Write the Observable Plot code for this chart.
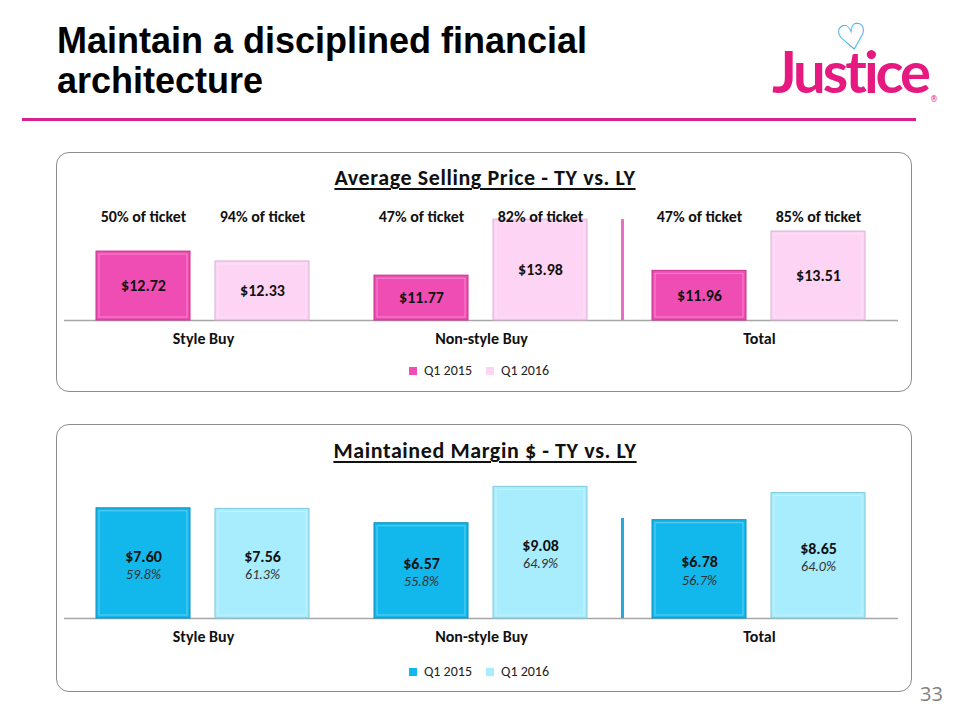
<!DOCTYPE html>
<html>
<head>
<meta charset="utf-8">
<script src="https://cdn.jsdelivr.net/npm/d3@7"></script>
<script src="https://cdn.jsdelivr.net/npm/@observablehq/plot@0.6"></script>
<style>
  html, body { margin: 0; padding: 0; }
  body { width: 960px; height: 720px; position: relative; background: #fff; overflow: hidden; font-family: Carlito, Calibri, Lato, "Open Sans", sans-serif; }
  #title { position: absolute; left: 57px; top: 21px; font: bold 36px/40px "Liberation Sans", Arial, sans-serif; color: #000; }
  #hr { position: absolute; left: 22px; top: 118px; width: 894px; height: 3px; background: #d6228c; }
  .panel { position: absolute; left: 56px; width: 856px; border: 1.5px solid #8c8c8c; border-radius: 13px; box-sizing: border-box; }
  #p1 { top: 152px; height: 240px; }
  #p2 { top: 424px; height: 268px; }
  .ctitle { position: absolute; left: 0; width: 970px; text-align: center; font-weight: bold; font-size: 22px; line-height: 26px; letter-spacing: 0.6px; color: #111; text-decoration: underline; text-decoration-thickness: 2px; text-underline-offset: 3px; }
  .chart { position: absolute; left: 0; }
  .legend { position: absolute; left: 0; width: 972px; display: flex; justify-content: center; }
  .legend > div { justify-content: center !important; min-height: 0 !important; }
  #page { position: absolute; left: 920px; top: 680px; font: 20px "Open Sans", sans-serif; color: #7f7f7f; }
  #logo { position: absolute; left: 772px; top: 18px; width: 180px; height: 100px; }
  #logo .word { position: absolute; left: 0; top: 24px; font: bold 58px/1 Lato, sans-serif; color: #e5197f; letter-spacing: -3px; }
  #logo .heart { position: absolute; left: 64px; top: 2px; font: bold 36px/1 "DejaVu Sans", sans-serif; color: #2fb0e6; transform: rotate(-10deg); }
  #logo .reg { position: absolute; left: 158px; top: 78px; font: 8px/1 "DejaVu Sans", sans-serif; color: #e5197f; }
</style>
</head>
<body>
<div id="title">Maintain a disciplined financial<br>architecture</div>
<div id="hr"></div>
<div id="logo"><span class="heart">♡</span><span class="word">Justice</span><span class="reg">®</span></div>
<div class="panel" id="p1"></div>
<div class="panel" id="p2"></div>
<div class="ctitle" id="t1" style="top:165px">Average Selling Price - TY vs. LY</div>
<div class="ctitle" id="t2" style="top:438px">Maintained Margin $ - TY vs. LY</div>
<div class="chart" id="c1" style="top:195px"></div>
<div class="chart" id="c2" style="top:470px"></div>
<div class="legend" id="l1" style="top:362px"></div>
<div class="legend" id="l2" style="top:663px"></div>
<div id="page">33</div>
<script>
// ---- data ----
const categories = ["Style Buy", "Non-style Buy", "Total"];
const periods = ["Q1 2015", "Q1 2016"];

const aspQ1_2015 = [12.72, 11.77, 11.96];
const aspQ1_2016 = [12.33, 13.98, 13.51];
const ticketQ1_2015 = ["50% of ticket", "47% of ticket", "47% of ticket"];
const ticketQ1_2016 = ["94% of ticket", "82% of ticket", "85% of ticket"];

const mmQ1_2015 = [7.60, 6.57, 6.78];
const mmQ1_2016 = [7.56, 9.08, 8.65];
const mmPctQ1_2015 = [59.8, 55.8, 56.7];
const mmPctQ1_2016 = [61.3, 64.9, 64.0];

// separator line drawn before the "Total" group (top value in y units)
const aspSeparator = [{cat: "Total", period: "Q1 2015", top: 13.98}];
const mmSeparator = [{cat: "Total", period: "Q1 2015", top: 6.9}];

// ---- build tables ----
const asp = categories.flatMap((c, i) => [
  {cat: c, period: periods[0], value: aspQ1_2015[i], ticket: ticketQ1_2015[i]},
  {cat: c, period: periods[1], value: aspQ1_2016[i], ticket: ticketQ1_2016[i]}
]);
const mm = categories.flatMap((c, i) => [
  {cat: c, period: periods[0], value: mmQ1_2015[i], pct: mmPctQ1_2015[i]},
  {cat: c, period: periods[1], value: mmQ1_2016[i], pct: mmPctQ1_2016[i]}
]);

const FONT = 'Carlito, Calibri, Lato, "Open Sans", sans-serif';

function chart({data, base, top, fills, edges, sepColor, sep, height, marginTop, marginBottom, ticket, pct}) {
  const marks = [
    Plot.ruleY([base], {stroke: "#a6a6a6", strokeWidth: 1.5}),
    Plot.ruleX(sep, {fx: "cat", x: "period", y1: base, y2: "top", dx: -77, stroke: sepColor, strokeWidth: 3}),
    ...periods.map((p, j) => Plot.barY(data.filter(d => d.period === p), {
      fx: "cat", x: "period", y1: base, y2: "value", fill: fills[j], stroke: edges[j], strokeWidth: 1
    })),
    Plot.barY(data, {fx: "cat", x: "period", y1: base, y2: "value", inset: 3, fill: "none", stroke: "white", strokeOpacity: 0.35}),
    Plot.text(data, {
      fx: "cat", x: "period", y: d => (base + d.value) / 2,
      text: d => "$" + d.value.toFixed(2), dy: pct ? -7 : 0,
      fontWeight: "bold", fontSize: 16, fill: "#111", fontFamily: FONT
    }),
    Plot.axisFx({anchor: "bottom", tickSize: 0, tickPadding: 12, fontSize: 16, fontWeight: "bold", fill: "#111", label: null, fontFamily: FONT})
  ];
  if (ticket) marks.push(Plot.text(data, {fx: "cat", x: "period", text: "ticket", frameAnchor: "top", fontWeight: "bold", fontSize: 16, fill: "#111", fontFamily: FONT}));
  if (pct) marks.push(Plot.text(data, {
    fx: "cat", x: "period", y: d => (base + d.value) / 2,
    text: d => d.pct.toFixed(1) + "%", dy: 11, fontStyle: "italic", fontSize: 14, fill: "#333", fontFamily: FONT
  }));
  return Plot.plot({
    width: 960, height, marginLeft: 64, marginRight: 62, marginTop, marginBottom,
    style: {fontFamily: FONT, background: "transparent", overflow: "visible"},
    fx: {domain: categories, padding: 0, label: null},
    x: {domain: periods, paddingInner: 0.21, paddingOuter: 0.273, axis: null},
    y: {domain: [base, top], clamp: true, axis: null},
    marks
  });
}

const pinkFills = ["#ef4db3", "#fdd4f4"];
const pinkEdges = ["#c8308f", "#dcaed3"];
const blueFills = ["#12b7ec", "#a7edfd"];
const blueEdges = ["#0b8fbe", "#7fc7db"];

document.getElementById("c1").append(chart({
  data: asp, base: 10, top: 14.341, fills: pinkFills, edges: pinkEdges, sepColor: "#ea6cc4", sep: aspSeparator,
  height: 160, marginTop: 15, marginBottom: 35, ticket: true, pct: false
}));
document.getElementById("c2").append(chart({
  data: mm, base: 0, top: 9.517, fills: blueFills, edges: blueEdges, sepColor: "#2aa8dc", sep: mmSeparator,
  height: 185, marginTop: 10, marginBottom: 37, ticket: false, pct: true
}));

function legend(fills) {
  return Plot.legend({
    color: {domain: periods, range: fills},
    legend: "swatches", swatchSize: 8,
    style: {fontFamily: FONT, fontSize: "14px", color: "#222"}
  });
}
document.getElementById("l1").append(legend(pinkFills));
document.getElementById("l2").append(legend(blueFills));
</script>
</body>
</html>
